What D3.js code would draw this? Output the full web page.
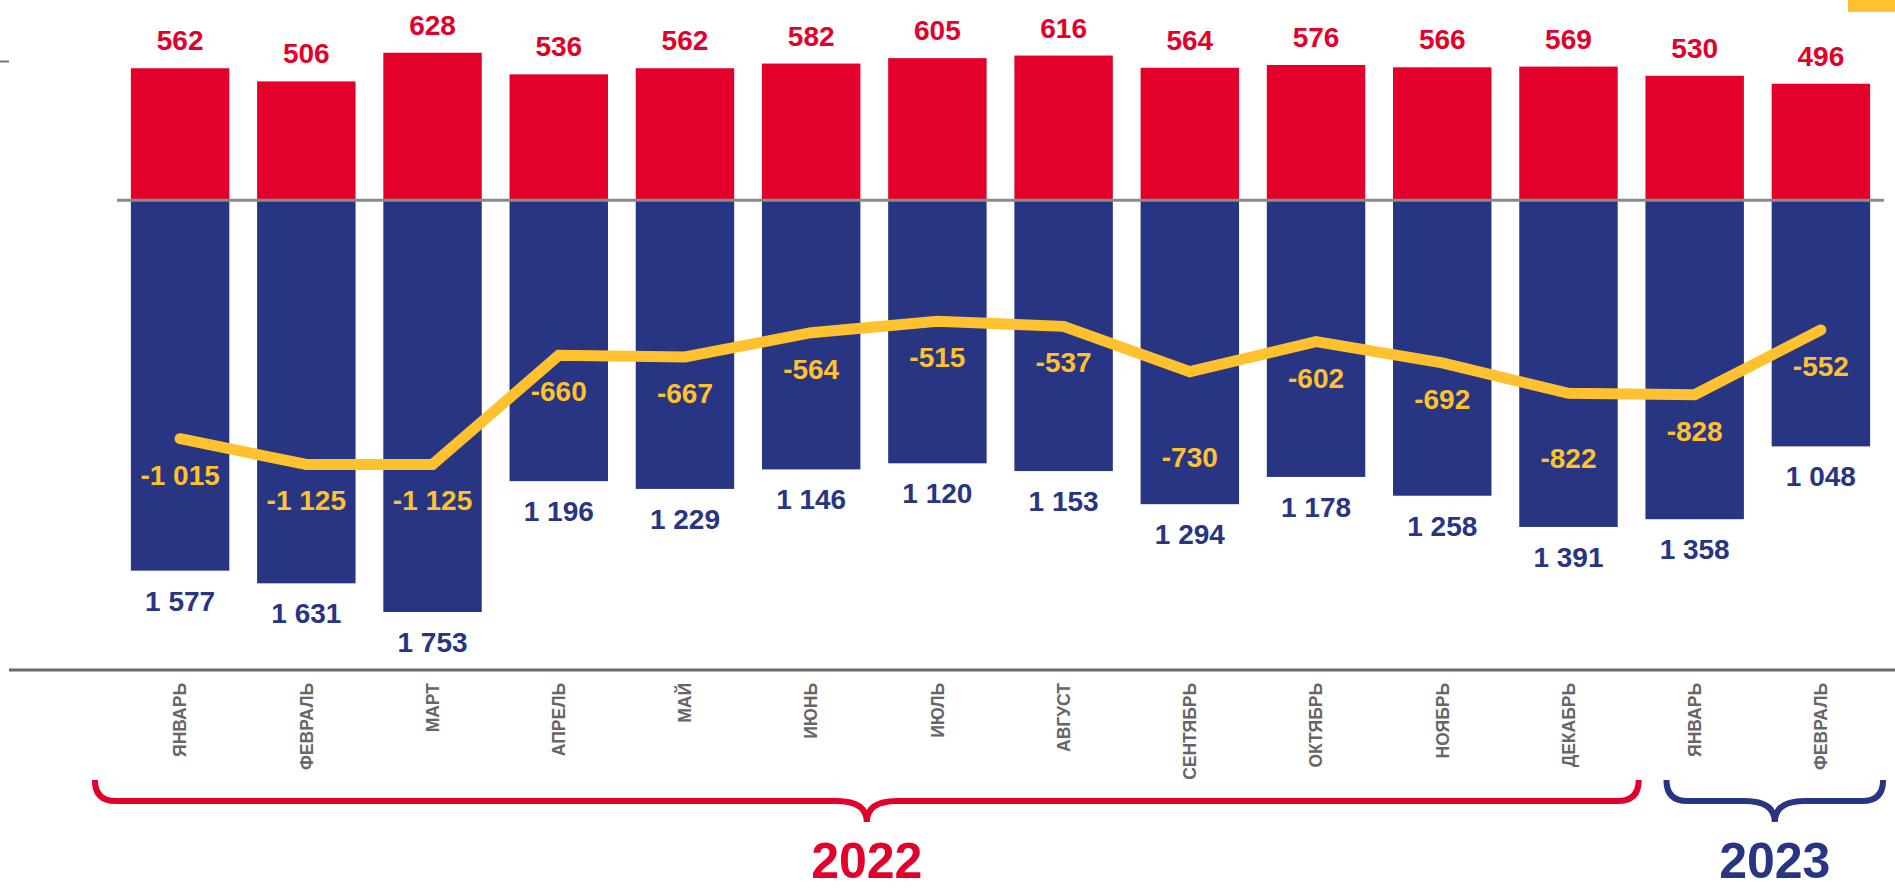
<!DOCTYPE html>
<html>
<head>
<meta charset="utf-8">
<script src="https://cdn.jsdelivr.net/npm/d3@7"></script>
<style>
  html, body { margin: 0; padding: 0; background: #fff; }
  svg { display: block; font-family: "Liberation Sans", Arial, sans-serif; }
</style>
</head>
<body>
<div id="chart"></div>
<script>
// Data
var months = ['ЯНВАРЬ', 'ФЕВРАЛЬ', 'МАРТ', 'АПРЕЛЬ', 'МАЙ', 'ИЮНЬ', 'ИЮЛЬ', 'АВГУСТ',
  'СЕНТЯБРЬ', 'ОКТЯБРЬ', 'НОЯБРЬ', 'ДЕКАБРЬ', 'ЯНВАРЬ', 'ФЕВРАЛЬ'];
var inflow = [562, 506, 628, 536, 562, 582, 605, 616, 564, 576, 566, 569, 530, 496];
var outflow = [1577, 1631, 1753, 1196, 1229, 1146, 1120, 1153, 1294, 1178, 1258, 1391, 1358, 1048];
var balance = [-1015, -1125, -1125, -660, -667, -564, -515, -537, -730, -602, -692, -822, -828, -552];
var years = ['2022', '2023'];
var yearFirst = [0, 12];
var yearLast = [11, 13];

// Styles
var width = 1895;
var height = 889;
var red = '#e3002b';
var navy = '#283583';
var yellow = '#ffc22e';
var yearColors = [red, navy];
// extra downward shift for a few balance labels (px)
var balanceLabelShift = { 8: 49, 11: 29 };
// brace end offsets from the first / last bar edge (px)
var braceLeftPad = [-36, 21];
var braceRightPad = [21, 13];

var svg = d3.select('#chart').append('svg')
  .attr('width', width)
  .attr('height', height);

var x = d3.scaleBand()
  .domain(d3.range(months.length))
  .range([117, 1884])
  .paddingInner(0.22)
  .paddingOuter(0.11);

var y = d3.scaleLinear()
  .domain([-2000, 850])
  .range([670, 0.6]);

var fmt = function (v) {
  var s = d3.format(',')(Math.abs(v)).replace(/,/g, ' ');
  return (v < 0 ? '-' : '') + s;
};

// corner marks
svg.append('rect')
  .attr('x', 1848).attr('y', 0)
  .attr('width', 47).attr('height', 12)
  .style('fill', yellow);
svg.append('line')
  .attr('x1', 0).attr('x2', 9)
  .attr('y1', 61.5).attr('y2', 61.5)
  .style('stroke', '#777')
  .style('stroke-width', 2);

// red bars (inflow)
svg.selectAll('.bar-in')
  .data(inflow)
  .enter()
  .append('rect')
  .attr('class', 'bar-in')
  .attr('x', function (d, i) { return x(i); })
  .attr('y', function (d) { return y(d); })
  .attr('width', x.bandwidth())
  .attr('height', function (d) { return y(0) - y(d); })
  .style('fill', red);

// navy bars (outflow)
svg.selectAll('.bar-out')
  .data(outflow)
  .enter()
  .append('rect')
  .attr('class', 'bar-out')
  .attr('x', function (d, i) { return x(i); })
  .attr('y', y(0))
  .attr('width', x.bandwidth())
  .attr('height', function (d) { return y(-d) - y(0); })
  .style('fill', navy);

// zero line
svg.append('line')
  .attr('x1', x.range()[0]).attr('x2', x.range()[1])
  .attr('y1', y(0)).attr('y2', y(0))
  .style('stroke', '#8a8a8a')
  .style('stroke-width', 3);

// bottom axis line
svg.append('line')
  .attr('x1', 9).attr('x2', width)
  .attr('y1', y(-2000)).attr('y2', y(-2000))
  .style('stroke', '#6b6b6b')
  .style('stroke-width', 3);

// balance line
var line = d3.line()
  .x(function (d, i) { return x(i) + x.bandwidth() / 2; })
  .y(function (d) { return y(d); });

svg.append('path')
  .datum(balance)
  .attr('d', line)
  .style('fill', 'none')
  .style('stroke', yellow)
  .style('stroke-width', 11)
  .style('stroke-linecap', 'round')
  .style('stroke-linejoin', 'miter');

// value labels
svg.selectAll('.lab-in')
  .data(inflow)
  .enter()
  .append('text')
  .attr('x', function (d, i) { return x(i) + x.bandwidth() / 2; })
  .attr('y', function (d) { return y(d) - 18; })
  .attr('text-anchor', 'middle')
  .style('font-size', '28px')
  .style('font-weight', 'bold')
  .style('fill', red)
  .text(fmt);

svg.selectAll('.lab-out')
  .data(outflow)
  .enter()
  .append('text')
  .attr('x', function (d, i) { return x(i) + x.bandwidth() / 2; })
  .attr('y', function (d) { return y(-d) + 40; })
  .attr('text-anchor', 'middle')
  .style('font-size', '28px')
  .style('font-weight', 'bold')
  .style('fill', navy)
  .text(fmt);

svg.selectAll('.lab-bal')
  .data(balance)
  .enter()
  .append('text')
  .attr('x', function (d, i) { return x(i) + x.bandwidth() / 2; })
  .attr('y', function (d, i) { return y(d) + 46 + (balanceLabelShift[i] || 0); })
  .attr('text-anchor', 'middle')
  .style('font-size', '28px')
  .style('font-weight', 'bold')
  .style('fill', yellow)
  .text(fmt);

// month labels
svg.selectAll('.month')
  .data(months)
  .enter()
  .append('text')
  .attr('class', 'month')
  .attr('transform', function (d, i) {
    return 'translate(' + (x(i) + x.bandwidth() / 2) + ',683) rotate(-90)';
  })
  .attr('dy', '0.36em')
  .attr('text-anchor', 'end')
  .style('font-size', '17.5px')
  .style('font-weight', 'bold')
  .style('fill', '#666')
  .text(function (d) { return d; });

// year braces
function bracePath(x0, x1, yTop, yMid, yTip) {
  var r = yMid - yTop;
  var xm = (x0 + x1) / 2;
  var t = 30;
  return 'M' + x0 + ',' + yTop +
    'Q' + x0 + ',' + yMid + ' ' + (x0 + r) + ',' + yMid +
    'L' + (xm - t) + ',' + yMid +
    'Q' + xm + ',' + yMid + ' ' + xm + ',' + yTip +
    'Q' + xm + ',' + yMid + ' ' + (xm + t) + ',' + yMid +
    'L' + (x1 - r) + ',' + yMid +
    'Q' + x1 + ',' + yMid + ' ' + x1 + ',' + yTop;
}

years.forEach(function (yr, k) {
  var x0 = x(yearFirst[k]) + braceLeftPad[k];
  var x1 = x(yearLast[k]) + x.bandwidth() + braceRightPad[k];
  svg.append('path')
    .attr('d', bracePath(x0, x1, 780, 801, 822))
    .style('fill', 'none')
    .style('stroke', yearColors[k])
    .style('stroke-width', 6);
  svg.append('text')
    .attr('x', (x0 + x1) / 2)
    .attr('y', 878)
    .attr('text-anchor', 'middle')
    .style('font-size', '50px')
    .style('font-weight', 'bold')
    .style('fill', yearColors[k])
    .text(yr);
});
</script>
</body>
</html>
